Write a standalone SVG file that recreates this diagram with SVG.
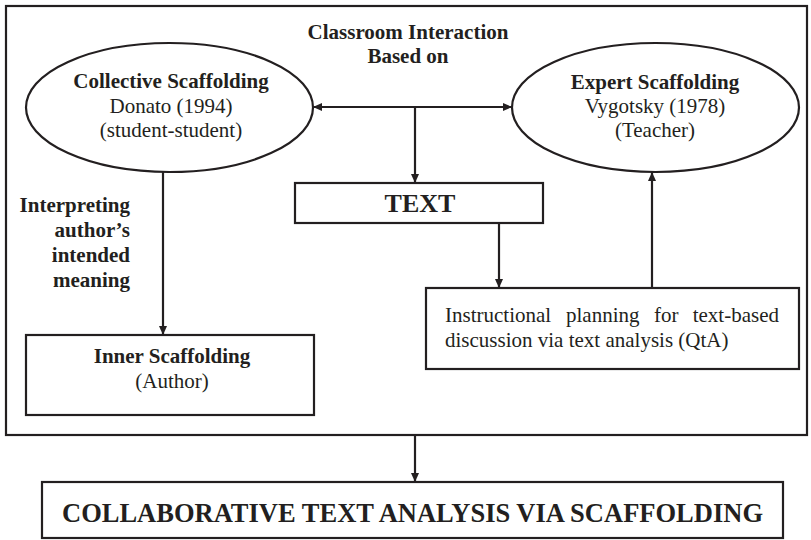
<svg xmlns="http://www.w3.org/2000/svg" width="811" height="540" viewBox="0 0 811 540">
<defs>
<marker id="arr" markerWidth="10" markerHeight="10" refX="9" refY="5" orient="auto" markerUnits="userSpaceOnUse" viewBox="0 0 10 10">
<path d="M0,1 L9,5 L0,9 Z" fill="#231f20"/>
</marker>
</defs>
<style>
.box{fill:#fff;stroke:#231f20;stroke-width:2.2}
.ln{fill:none;stroke:#231f20;stroke-width:2.2}
.t{font-family:"Liberation Serif","Times New Roman",serif;font-size:21px;fill:#231f20}
.b{font-weight:bold}
.c{text-anchor:middle}
</style>
<rect width="811" height="540" fill="#fff"/>
<g id="frame"><rect class="box" x="6" y="6" width="801" height="429"/></g>
<g id="title">
<text class="t b c" x="408" y="39">Classroom Interaction</text>
<text class="t b c" x="408" y="63">Based on</text>
</g>
<g id="collective">
<ellipse class="box" cx="169.5" cy="107.5" rx="143.5" ry="64.5"/>
<text class="t b c" x="171" y="88">Collective Scaffolding</text>
<text class="t c" x="171" y="113">Donato (1994)</text>
<text class="t c" x="171" y="137">(student-student)</text>
</g>
<g id="expert">
<ellipse class="box" cx="655.5" cy="107.5" rx="143.5" ry="64.5"/>
<text class="t b c" x="655" y="89">Expert Scaffolding</text>
<text class="t c" x="655" y="113">Vygotsky (1978)</text>
<text class="t c" x="655" y="137">(Teacher)</text>
</g>
<g id="text">
<rect class="box" x="295" y="183" width="248" height="40"/>
<text class="t b c" x="420" y="212" style="font-size:26px">TEXT</text>
</g>
<g id="planning">
<rect class="box" x="426" y="288" width="373" height="81"/>
<text class="t" x="445" y="322">Instructional</text>
<text class="t" x="566" y="322">planning</text>
<text class="t" x="654" y="322">for</text>
<text class="t" x="779" y="322" text-anchor="end">text-based</text>
<text class="t" x="445" y="347">discussion via text analysis (QtA)</text>
</g>
<g id="inner">
<rect class="box" x="26" y="335" width="288" height="80"/>
<text class="t b c" x="172" y="363">Inner Scaffolding</text>
<text class="t c" x="172" y="388">(Author)</text>
</g>
<g id="label">
<text class="t b" x="130" y="212" text-anchor="end">Interpreting</text>
<text class="t b" x="130" y="237" text-anchor="end">author’s</text>
<text class="t b" x="130" y="262" text-anchor="end">intended</text>
<text class="t b" x="130" y="287" text-anchor="end">meaning</text>
</g>
<g id="result">
<rect class="box" x="42" y="482" width="741" height="56"/>
<text class="t b" x="62" y="522" style="font-size:27px" textLength="701" lengthAdjust="spacingAndGlyphs">COLLABORATIVE TEXT ANALYSIS VIA SCAFFOLDING</text>
</g>
<g id="connectors">
<line class="ln" x1="415" y1="107" x2="313" y2="107" marker-end="url(#arr)"/>
<line class="ln" x1="415" y1="107" x2="512" y2="107" marker-end="url(#arr)"/>
<line class="ln" x1="415" y1="107" x2="415" y2="183" marker-end="url(#arr)"/>
<line class="ln" x1="499" y1="223" x2="499" y2="288" marker-end="url(#arr)"/>
<line class="ln" x1="652" y1="288" x2="652" y2="172" marker-end="url(#arr)"/>
<line class="ln" x1="163" y1="172" x2="163" y2="335" marker-end="url(#arr)"/>
<line class="ln" x1="415" y1="435" x2="415" y2="482" marker-end="url(#arr)"/>
</g>
</svg>
